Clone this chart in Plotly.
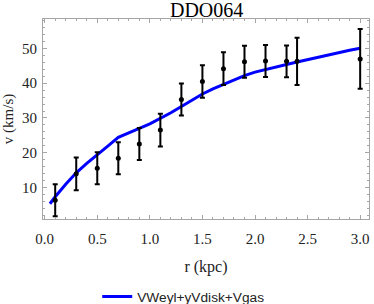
import plotly.graph_objects as go

# Observed data (r in kpc, v in km/s)
r_obs = [0.1, 0.3, 0.5, 0.7, 0.9, 1.1, 1.3, 1.5, 1.7, 1.9, 2.1, 2.3, 2.4, 3.0]
v_obs = [6.3, 13.9, 15.5, 18.4, 22.5, 26.5, 35.3, 40.5, 44.2, 46.2, 46.4, 46.3, 46.3, 47.0]
v_err = [4.6, 4.7, 4.6, 4.6, 4.6, 4.7, 4.6, 4.7, 4.7, 4.6, 4.6, 4.6, 6.8, 8.6]

# Model curve VWeyl+yVdisk+Vgas
r_model = [0.05, 0.1, 0.2, 0.3, 0.4, 0.5, 0.6, 0.7, 0.8, 0.9, 1.0, 1.1, 1.2, 1.3, 1.4, 1.5,
           1.6, 1.7, 1.8, 1.9, 2.0, 2.1, 2.2, 2.3, 2.4, 2.5, 2.6, 2.7, 2.8, 2.9, 3.0]
v_model = [5.3, 7.3, 10.9, 14.2, 16.9, 19.3, 21.9, 24.4, 25.8, 27.0, 28.3, 29.8, 31.5, 33.3, 35.1, 36.9,
           38.4, 39.7, 41.0, 42.2, 43.2, 44.0, 44.8, 45.4, 46.1, 46.8, 47.5, 48.3, 48.9, 49.5, 50.1]

x_ticks = [0.0, 0.5, 1.0, 1.5, 2.0, 2.5, 3.0]
x_ticklabels = ["0.0", "0.5", "1.0", "1.5", "2.0", "2.5", "3.0"]
y_ticks = [10, 20, 30, 40, 50]

serif = "Liberation Serif"
frame = "#a6a6a6"

fig = go.Figure()
fig.add_trace(go.Scatter(
    x=r_model, y=v_model, mode="lines",
    line=dict(color="#0000ff", width=3),
    name="VWeyl+yVdisk+Vgas", showlegend=True,
))
fig.add_trace(go.Scatter(
    x=r_obs, y=v_obs, mode="markers",
    marker=dict(color="black", size=5),
    error_y=dict(type="data", array=v_err, visible=True, color="black", thickness=2, width=2.5),
    showlegend=False,
))

axis_common = dict(
    showline=True, linecolor=frame, linewidth=1, mirror="ticks",
    ticks="inside", tickcolor=frame, ticklen=4, tickwidth=1,
    showgrid=False, zeroline=False,
    tickfont=dict(family=serif, size=15, color="#222"),
)

fig.update_layout(
    width=374, height=304,
    font=dict(family=serif, color="#222"),
    margin=dict(l=43, r=5, t=19, b=85),
    paper_bgcolor="white", plot_bgcolor="white",
    title=dict(text="DDO064", x=0.5525, xanchor="center", y=0.967, yanchor="middle",
               font=dict(family=serif, size=20, color="black")),
    xaxis=dict(range=[-0.016, 3.084], tickvals=x_ticks, ticktext=x_ticklabels,
               minor=dict(dtick=0.1, ticks="inside", ticklen=2, tickcolor=frame),
               ticklabelstandoff=6,
               title=dict(text="r (kpc)", font=dict(family=serif, size=16, color="#222"), standoff=14),
               **axis_common),
    yaxis=dict(range=[0.9, 58.5], tickvals=y_ticks,
               minor=dict(dtick=2, ticks="inside", ticklen=2, tickcolor=frame),
               ticklabelstandoff=2,
               title=dict(text="v (km/s)", font=dict(family=serif, size=15, color="#222"), standoff=4),
               **axis_common),
    legend=dict(orientation="h", xref="container", yref="container",
                x=0.26, xanchor="left", y=0.024, yanchor="middle",
                font=dict(family="Liberation Sans", size=13.7, color="#222"),
                itemwidth=30, bgcolor="rgba(0,0,0,0)"),
)

fig.write_html(
    "out.html",
    config={"displayModeBar": False},
    post_script="document.body.style.margin='0';document.body.style.overflow='hidden';",
)
